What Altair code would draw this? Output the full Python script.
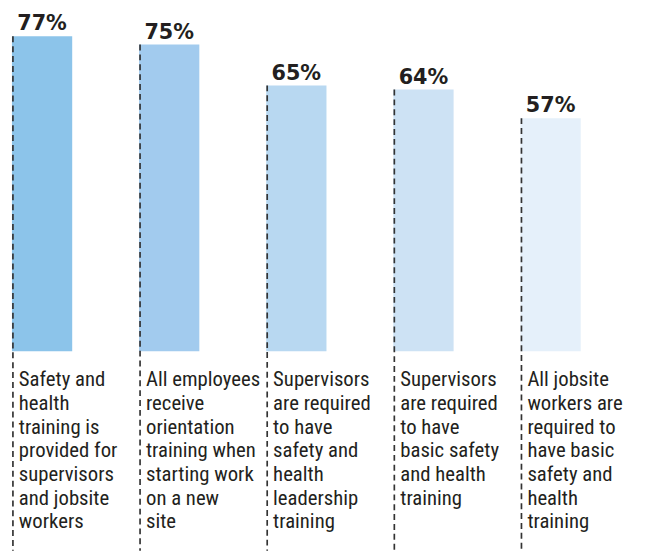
import altair as alt
import pandas as pd

categories = ["c1", "c2", "c3", "c4", "c5"]
values = [77, 75, 65, 64, 57]
value_labels = ["77%", "75%", "65%", "64%", "57%"]
descriptions = [
    "Safety and\nhealth\ntraining is\nprovided for\nsupervisors\nand jobsite\nworkers",
    "All employees\nreceive\norientation\ntraining when\nstarting work\non a new\nsite",
    "Supervisors\nare required\nto have\nsafety and\nhealth\nleadership\ntraining",
    "Supervisors\nare required\nto have\nbasic safety\nand health\ntraining",
    "All jobsite\nworkers are\nrequired to\nhave basic\nsafety and\nhealth\ntraining",
]
colors = ["#8cc4ea", "#a2cbee", "#b8d8f1", "#cde2f4", "#e5f0fa"]

df = pd.DataFrame({
    "cat": categories,
    "value": values,
    "label": value_labels,
    "desc": descriptions,
    "color": colors,
})

x = alt.X("cat:N", sort=categories, axis=None,
          scale=alt.Scale(paddingInner=0.526, paddingOuter=0.031))
y = alt.Y("value:Q", axis=None, scale=alt.Scale(domain=[0, 83.09], nice=False, zero=True))

base = alt.Chart(df)

bars = base.mark_bar().encode(
    x=x, y=y, color=alt.Color("color:N", scale=None)
)

rules = base.mark_rule(strokeDash=[6, 4], strokeWidth=1.7, color="#333333", xOffset=1).encode(
    x=alt.X("cat:N", sort=categories, axis=None, bandPosition=0),
    y=y,
    y2=alt.value(546),
)

pct = base.mark_text(font="DejaVu Sans", fontWeight="bold", fontSize=21,
                     color="#231f20", baseline="alphabetic", dy=-6).encode(
    x=x, y=y, text="label:N"
)

desc = base.mark_text(font="Roboto Condensed, Liberation Sans, Arial, sans-serif",
                      fontSize=21, lineHeight=24, lineBreak="\n", color="#231f20",
                      align="left", baseline="top", dx=7).encode(
    x=alt.X("cat:N", sort=categories, axis=None, bandPosition=0),
    y=alt.value(362.5),
    text="desc:N",
)

chart = alt.layer(bars, rules, pct, desc).properties(
    width=584, height=344,
    autosize=alt.AutoSizeParams(type="none"),
    padding={"left": 0, "top": 0, "right": 54, "bottom": 210},
).configure_view(stroke=None)

chart.save("out.html", embed_options={"renderer": "svg", "actions": False})
